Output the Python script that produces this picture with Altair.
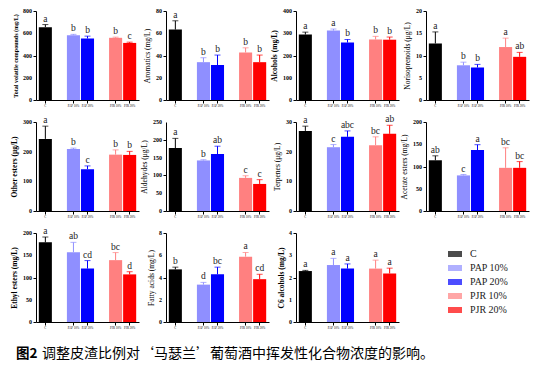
import altair as alt
import pandas as pd

groups = ["C", "PAP 10%", "PAP 20%", "PJR 10%", "PJR 20%"]
colors = ["#000000", "#8F8FFF", "#0000FF", "#FF8080", "#FF0000"]
x_slots = ["C", " ", "PAP 10%", "PAP 20%", "  ", "PJR 10%", "PJR 20%"]

total_mean = [655, 583, 553, 559, 513]
total_sd = [23, 7, 21, 6, 7]
total_let = ["a", "b", "b", "b", "c"]

arom_mean = [63.3, 34, 31.4, 42.7, 34]
arom_sd = [7.9, 4, 9, 4.2, 6.4]
arom_let = ["a", "b", "b", "b", "b"]

alc_mean = [294, 312, 258, 272, 271]
alc_sd = [11, 7, 14, 14, 12]
alc_let = ["a", "a", "b", "b", "b"]

nor_mean = [12.7, 7.8, 7.3, 11.9, 9.7]
nor_sd = [2.6, 0.7, 0.7, 2.0, 1.0]
nor_let = ["a", "b", "b", "a", "ab"]

oth_mean = [243, 209, 141, 190, 189]
oth_sd = [43, 3, 11, 16, 12]
oth_let = ["a", "b", "c", "b", "b"]

ald_mean = [177, 142, 160, 93, 76]
ald_sd = [27, 2, 22, 6, 12]
ald_let = ["a", "b", "ab", "c", "c"]

ter_mean = [27.0, 21.5, 25.0, 22.2, 26.0]
ter_sd = [1.6, 0.9, 2.0, 2.8, 2.9]
ter_let = ["a", "c", "abc", "bc", "ab"]

ace_mean = [114, 80, 137, 97, 97]
ace_sd = [10, 2, 12, 45, 14]
ace_let = ["ab", "c", "a", "bc", "bc"]

eth_mean = [179, 157, 120, 139, 107]
eth_sd = [12, 22, 18, 17, 6]
eth_let = ["a", "ab", "cd", "bc", "d"]

fat_mean = [4.73, 3.36, 4.29, 5.87, 3.85]
fat_sd = [0.20, 0.20, 0.64, 0.38, 0.44]
fat_let = ["b", "d", "bc", "a", "cd"]

c6_mean = [2.29, 2.56, 2.40, 2.40, 2.18]
c6_sd = [0.03, 0.30, 0.21, 0.38, 0.24]
c6_let = ["a", "a", "a", "a", "a"]

fig_label = "图2"
caption = "调整皮渣比例对‘马瑟兰’葡萄酒中挥发性化合物浓度的影响。"

panels = [
    ("Total volatile compounds (mg/L)", 800, 200, total_mean, total_sd, total_let, "bold", 6),
    ("Aromatics (mg/L)", 80, 20, arom_mean, arom_sd, arom_let, "normal", 7.5),
    ("Alcohols (mg/L)", 400, 100, alc_mean, alc_sd, alc_let, "bold", 7.5),
    ("Norisoprenoids (μg/L)", 20, 5, nor_mean, nor_sd, nor_let, "normal", 7.5),
    ("Other esters (μg/L)", 300, 100, oth_mean, oth_sd, oth_let, "bold", 7.5),
    ("Aldehydes (μg/L)", 250, 50, ald_mean, ald_sd, ald_let, "normal", 7.5),
    ("Terpenes (μg/L)", 30, 10, ter_mean, ter_sd, ter_let, "normal", 7.5),
    ("Acetate esters (mg/L)", 200, 50, ace_mean, ace_sd, ace_let, "normal", 7.5),
    ("Ethyl esters (mg/L)", 200, 50, eth_mean, eth_sd, eth_let, "bold", 7.5),
    ("Fatty acids (mg/L)", 8, 2, fat_mean, fat_sd, fat_let, "normal", 7.5),
    ("C6 alcohols (mg/L)", 4, 1, c6_mean, c6_sd, c6_let, "bold", 7.5),
]

SERIF = "Liberation Serif, Times New Roman, serif"
CJK = "Noto Sans CJK SC"
W, H = 103, 89


def make_panel(title, ymax, step, means, sds, letters, weight, tsize, extra=None):
    df = pd.DataFrame({
        "g": groups,
        "m": means,
        "top": [m + s for m, s in zip(means, sds)],
        "lab": letters,
    })
    ticks = list(range(0, ymax + step, step))
    tick_df = pd.DataFrame({"v": ticks})
    label_w = 3.3 * len(str(ymax))
    x = alt.X("g:N", sort=x_slots,
              scale=alt.Scale(domain=x_slots, paddingInner=0.07, paddingOuter=0.2),
              axis=alt.Axis(values=groups, title=None, labelAngle=0, labelFontSize=3,
                            labelFont=SERIF, labelColor="black", tickSize=3, labelPadding=1,
                            domainColor="black", tickColor="black", domainWidth=1))
    yscale = alt.Scale(domain=[0, ymax], nice=False, zero=True)
    yaxis = alt.Axis(title=title, values=ticks, labels=False,
                     titleFont=SERIF, titleFontSize=tsize, titleFontWeight=weight,
                     titleColor="black", titlePadding=4 + label_w,
                     tickSize=3, tickColor="black",
                     domainColor="black", domainWidth=1, grid=False)
    y = alt.Y("m:Q", scale=yscale, axis=yaxis)
    color = alt.Color("g:N", scale=alt.Scale(domain=groups, range=colors), legend=None)
    base = alt.Chart(df)
    bars = base.mark_bar().encode(x=x, y=y, color=color)
    rule = base.mark_rule(strokeWidth=1).encode(x=x, y="m:Q", y2="top:Q", color=color)
    cap = base.mark_tick(size=6, thickness=1).encode(x=x, y="top:Q", color=color)
    txt = base.mark_text(baseline="bottom", dy=-1, font=SERIF, fontSize=9.5, color="#222222").encode(
        x=x, y="top:Q", text="lab:N")
    ylab = alt.Chart(tick_df).mark_text(align="right", baseline="middle", font=SERIF,
                                        fontSize=6, fontWeight="bold", color="black").encode(
        x=alt.value(-4), y=alt.Y("v:Q", scale=yscale, axis=yaxis), text="v:Q")
    layers = [bars, rule, cap, txt, ylab]
    if extra:
        layers += extra
    return alt.layer(*layers).properties(width=W, height=H)


cap_df = pd.DataFrame({"a": [fig_label], "b": [caption]})
cap_bold = alt.Chart(cap_df).mark_text(align="left", baseline="middle", font=CJK, fontSize=13.5,
                                       fontWeight="bold", color="black").encode(
    x=alt.value(-20), y=alt.value(121), text="a:N")
cap_rest = alt.Chart(cap_df).mark_text(align="left", baseline="middle", font=CJK, fontSize=14,
                                       color="black").encode(
    x=alt.value(6), y=alt.value(121), text="b:N")

charts = []
for i, p in enumerate(panels):
    charts.append(make_panel(*p, extra=[cap_bold, cap_rest] if i == 8 else None))

leg_df = pd.DataFrame({"g": groups})
leg_y = alt.Y("g:N", sort=groups, axis=None,
              scale=alt.Scale(type="point", domain=groups, range=[14, 84]))
leg_sw = alt.Chart(leg_df).mark_tick(orient="horizontal", size=14, thickness=6).encode(
    x=alt.value(29), y=leg_y,
    color=alt.Color("g:N", scale=alt.Scale(domain=groups, range=colors), legend=None))
leg_tx = alt.Chart(leg_df).mark_text(align="left", baseline="middle", font=SERIF,
                                     fontSize=10, color="#222222").encode(
    x=alt.value(44), y=leg_y, text="g:N")
legend = alt.layer(leg_sw, leg_tx).properties(width=W, height=H)

charts.append(legend)

chart = alt.concat(*charts, columns=4, spacing={"row": 22, "column": 27},
                   bounds="flush").properties(
    padding={"left": 2, "top": 0, "right": 2, "bottom": 2},
).configure_view(stroke=None)

chart.save("out.html", embed_options={"renderer": "svg", "actions": False})
